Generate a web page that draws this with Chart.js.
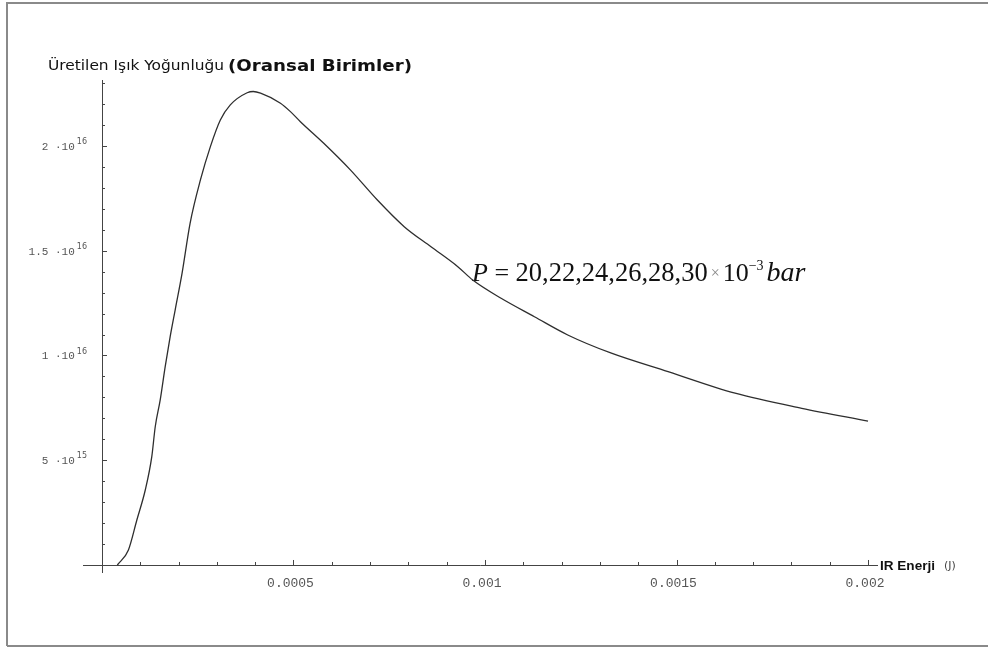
<!DOCTYPE html>
<html>
<head>
<meta charset="utf-8">
<script src="https://cdn.jsdelivr.net/npm/chart.js@4.4.1/dist/chart.umd.min.js"></script>
<style>
  html, body { margin: 0; padding: 0; background: #fff; }
  #wrap { width: 988px; height: 649px; position: relative; }
</style>
</head>
<body>
<div id="wrap"><canvas id="light-chart" width="988" height="649"></canvas></div>
<script>
// IR energy (J) and generated light intensity (units of 1e16)
const energyJ = [
    0.00004, 0.000069, 0.000091, 0.000113, 0.00013, 0.000139, 0.000152, 0.000165,
    0.000178, 0.000191, 0.000209, 0.00023, 0.000257, 0.000283, 0.000309, 0.000335,
    0.000379, 0.000395, 0.000414, 0.000466, 0.000492, 0.000518, 0.000579, 0.000649,
    0.000719, 0.000789, 0.000859, 0.000929, 0.000968, 0.001042, 0.001129, 0.001216,
    0.00133, 0.001478, 0.001653, 0.001827, 0.002
];
const intensity = [
    0, 0.072, 0.215, 0.358, 0.517, 0.660, 0.788, 0.947,
    1.090, 1.217, 1.392, 1.631, 1.838, 1.997, 2.124, 2.196,
    2.254, 2.260, 2.252, 2.204, 2.164, 2.116, 2.013, 1.885,
    1.742, 1.615, 1.519, 1.424, 1.360, 1.273, 1.185, 1.098,
    1.011, 0.923, 0.820, 0.748, 0.687
];

const xMajorTicks = [0.0005, 0.001, 0.0015, 0.002];
const xTickLabels = ['0.0005', '0.001', '0.0015', '0.002'];
const yMajorTicks = [0.5, 1, 1.5, 2];
const yTickMantissa = ['5 ·10', '1 ·10', '1.5 ·10', '2 ·10'];
const yTickExponent = ['15', '16', '16', '16'];

const titleText = 'Üretilen Işık Yoğunluğu';
const titleUnits = '(Oransal Birimler)';
const xAxisTitle = 'IR Enerji';
const xAxisUnit = '(J)';

const INK = '#2e2e2e';
const TICK_INK = '#555';

// draw text squeezed/stretched to a given width
function fitText(ctx, txt, x, y, w) {
    const mw = ctx.measureText(txt).width;
    ctx.save();
    ctx.translate(x, y);
    ctx.scale(w / mw, 1);
    ctx.fillText(txt, 0, 0);
    ctx.restore();
}

// Mathematica-style axes crossing at the origin, drawn through the chart's scales
const axesPlugin = {
    id: 'mmaAxes',
    beforeDatasetsDraw(chart) {
        const { ctx, chartArea: a, scales: { x, y } } = chart;
        const x0 = x.getPixelForValue(0);
        const y0 = y.getPixelForValue(0);
        ctx.save();

        // frame
        ctx.strokeStyle = '#8a8a8a';
        ctx.lineWidth = 2;
        ctx.beginPath();
        ctx.moveTo(7, 646); ctx.lineTo(7, 3); ctx.lineTo(990, 3);
        ctx.moveTo(7, 646); ctx.lineTo(990, 646);
        ctx.stroke();

        ctx.strokeStyle = '#444';
        ctx.lineWidth = 1;
        ctx.beginPath();
        ctx.moveTo(a.left, Math.round(y0) + 0.5);
        ctx.lineTo(a.right, Math.round(y0) + 0.5);
        ctx.moveTo(Math.round(x0) + 0.5, a.top);
        ctx.lineTo(Math.round(x0) + 0.5, a.bottom);

        // x ticks (minor every 0.0001)
        for (let i = 1; i <= 20; i++) {
            const px = Math.round(x.getPixelForValue(i * 0.0001)) + 0.5;
            const len = i % 5 === 0 ? 5 : 3;
            ctx.moveTo(px, y0); ctx.lineTo(px, y0 - len);
        }
        // y ticks (minor every 0.1e16)
        for (let i = 1; i <= 23; i++) {
            const py = Math.round(y.getPixelForValue(i * 0.1)) + 0.5;
            const len = i % 5 === 0 ? 5 : 3;
            ctx.moveTo(x0, py); ctx.lineTo(x0 + len, py);
        }
        ctx.stroke();

        // x tick labels
        ctx.fillStyle = TICK_INK;
        ctx.font = '13px "Liberation Mono", monospace';
        ctx.textAlign = 'center';
        ctx.textBaseline = 'middle';
        xMajorTicks.forEach((v, i) => {
            ctx.fillText(xTickLabels[i], x.getPixelForValue(v) - 3, y0 + 19);
        });

        // y tick labels with exponent
        yMajorTicks.forEach((v, i) => {
            const py = y.getPixelForValue(v);
            ctx.font = '8px "DejaVu Sans", sans-serif';
            ctx.textAlign = 'right';
            ctx.fillText(yTickExponent[i], x0 - 15, py - 4);
            const ew = ctx.measureText(yTickExponent[i]).width;
            ctx.font = '11px "Liberation Mono", monospace';
            ctx.fillText(yTickMantissa[i], x0 - 17 - ew, py + 1);
        });

        // titles
        ctx.fillStyle = '#111';
        ctx.textAlign = 'left';
        ctx.textBaseline = 'alphabetic';
        ctx.font = '14px "DejaVu Sans", sans-serif';
        fitText(ctx, titleText, 48, 70, 176);
        ctx.font = 'bold 15px "DejaVu Sans", sans-serif';
        fitText(ctx, titleUnits, 228, 71, 184);

        ctx.font = 'bold 13px "Liberation Sans", Arial, sans-serif';
        fitText(ctx, xAxisTitle, 880, y0 + 5, 55);
        ctx.font = '11px "DejaVu Sans", sans-serif';
        ctx.fillStyle = '#444';
        ctx.fillText(xAxisUnit, 944, y0 + 4);

        // pressure annotation
        ctx.fillStyle = '#111';
        let cx = 472;
        const base = 281;
        const seg = (txt, font, dy = 0, gap = 0) => {
            ctx.font = font;
            ctx.fillText(txt, cx, base + dy);
            cx += ctx.measureText(txt).width + gap;
        };
        seg('P', 'italic 26px "Liberation Serif", serif');
        seg(' = ', '26px "Liberation Serif", serif');
        seg('20,22,24,26,28,30', '26.5px "Liberation Serif", serif', 0, 3);
        ctx.fillStyle = '#888';
        seg('×', '16px "Liberation Serif", serif', -3, 3);
        ctx.fillStyle = '#111';
        seg('10', '26px "Liberation Serif", serif');
        seg('−3', '14px "Liberation Serif", serif', -11, 3);
        seg('bar', 'italic 28px "Liberation Serif", serif');

        ctx.restore();
    }
};

const ctx = document.getElementById('light-chart');
new Chart(ctx, {
    type: 'scatter',
    data: {
        datasets: [{
            data: energyJ.map((e, i) => ({ x: e, y: intensity[i] })),
            showLine: true,
            borderColor: INK,
            borderWidth: 1.3,
            pointRadius: 0,
            cubicInterpolationMode: 'monotone',
        }],
    },
    options: {
        responsive: false,
        animation: false,
        layout: { padding: { left: 83, right: 110, top: 80, bottom: 76 } },
        plugins: { legend: { display: false }, tooltip: { enabled: false } },
        scales: {
            x: { type: 'linear', display: false, min: -0.0000496, max: 0.0020261 },
            y: { type: 'linear', display: false, min: -0.0382, max: 2.315 },
        },
    },
    plugins: [axesPlugin],
});
</script>
</body>
</html>
